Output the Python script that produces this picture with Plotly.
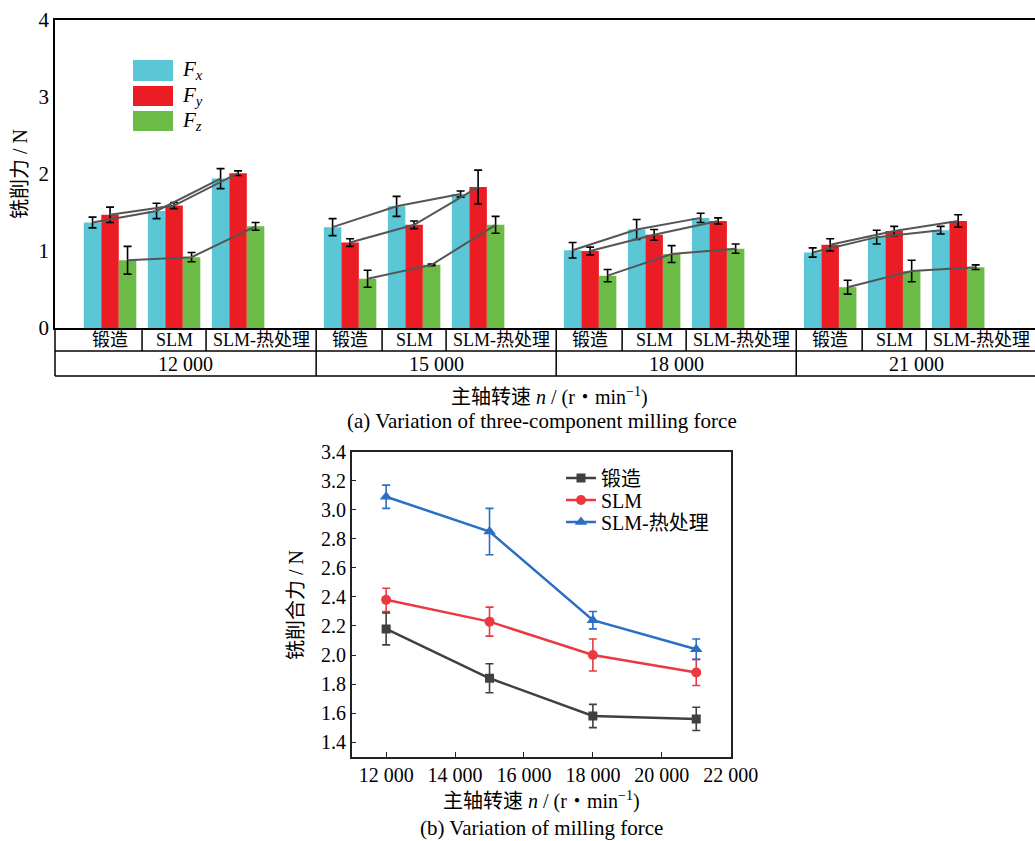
import plotly.graph_objects as go

# ---------------- data ----------------
speeds = ["12 000", "15 000", "18 000", "21 000"]
processes = ["锻造", "SLM", "SLM-热处理"]

# three-component milling force, ordered speed by speed, process by process
fx = [1.37, 1.52, 1.94, 1.31, 1.58, 1.74, 1.01, 1.28, 1.43, 0.98, 1.18, 1.27]
fx_err = [0.07, 0.10, 0.13, 0.11, 0.13, 0.04, 0.10, 0.13, 0.06, 0.06, 0.09, 0.05]
fy = [1.47, 1.59, 2.01, 1.11, 1.34, 1.83, 1.00, 1.21, 1.39, 1.08, 1.26, 1.39]
fy_err = [0.10, 0.04, 0.03, 0.05, 0.05, 0.22, 0.05, 0.07, 0.04, 0.08, 0.06, 0.08]
fz = [0.88, 0.92, 1.32, 0.64, 0.82, 1.34, 0.68, 0.96, 1.03, 0.53, 0.74, 0.79]
fz_err = [0.18, 0.06, 0.05, 0.11, 0.01, 0.11, 0.08, 0.11, 0.06, 0.09, 0.14, 0.03]

# resultant milling force
spindle = [12000, 15000, 18000, 21000]
forged = [2.18, 1.84, 1.58, 1.56]
forged_err = [0.11, 0.10, 0.08, 0.08]
slm = [2.38, 2.23, 2.00, 1.88]
slm_err = [0.08, 0.10, 0.11, 0.09]
slm_ht = [3.09, 2.85, 2.24, 2.04]
slm_ht_err = [0.08, 0.16, 0.06, 0.07]

# ---------------- style ----------------
W, H = 1035, 841
FONT = "Liberation Serif, 'Noto Sans CJK SC', serif"
C_FX, C_FY, C_FZ = "#5bc6d6", "#ec1c24", "#6cbb46"
C_LINK = "#555555"
C_FORGED, C_SLM, C_HT = "#404040", "#ea3a40", "#2a6fc2"


def px_x(p):
    return p / W


def px_y(p):
    return 1 - p / H


GROUP_STEP = 3.75        # slot spacing between speed groups
BARGAP = 0.18
BW = (1 - BARGAP) / 3    # width of one bar in slot units

pos = [g * GROUP_STEP + i for g in range(len(speeds)) for i in range(len(processes))]

fig = go.Figure()

for name, vals, errs, col in [("Fx", fx, fx_err, C_FX), ("Fy", fy, fy_err, C_FY), ("Fz", fz, fz_err, C_FZ)]:
    fig.add_trace(go.Bar(
        x=pos, y=vals, name=name, marker=dict(color=col, line=dict(width=0)),
        error_y=dict(type="data", array=errs, color="black", thickness=1.6, width=4),
        xaxis="x", yaxis="y", showlegend=False,
    ))

# linking lines between processes within each speed group
for vals, off in [(fx, -BW), (fy, 0.0), (fz, BW)]:
    xs, ys = [], []
    for g in range(len(speeds)):
        for i in range(len(processes)):
            k = g * len(processes) + i
            xs.append(pos[k] + off)
            ys.append(vals[k])
        xs.append(None)
        ys.append(None)
    fig.add_trace(go.Scatter(x=xs, y=ys, mode="lines", line=dict(color=C_LINK, width=2),
                             xaxis="x", yaxis="y", showlegend=False, hoverinfo="skip"))

# resultant force lines, each with its own legend box so rows sit tightly
LEG_TEXT = dict(size=20, family=FONT, color="black")
legend_rows = [478, 500, 522]
legend_boxes = {}
for k, (name, vals, errs, col, sym, size) in enumerate([
    ("锻造", forged, forged_err, C_FORGED, "square", 9),
    ("SLM", slm, slm_err, C_SLM, "circle", 10),
    ("SLM-热处理", slm_ht, slm_ht_err, C_HT, "triangle-up", 11),
]):
    leg_id = "legend" if k == 0 else f"legend{k + 1}"
    fig.add_trace(go.Scatter(
        x=spindle, y=vals, name=name, mode="lines+markers",
        line=dict(color=col, width=2.5), marker=dict(symbol=sym, size=size, color=col),
        error_y=dict(type="data", array=errs, color=col, thickness=1.6, width=4),
        xaxis="x2", yaxis="y2", legend=leg_id,
    ))
    legend_boxes[leg_id] = dict(x=px_x(561), y=px_y(legend_rows[k]), xanchor="left",
                                yanchor="middle", bgcolor="rgba(0,0,0,0)", font=LEG_TEXT,
                                itemwidth=30)

# ---------------- category table under the bar chart ----------------
X_LEFT = -0.86
X_RIGHT = 14.45
ROW1_BOT = 351
ROW2_BOT = 376
shapes = []
annotations = []
line_style = dict(color="black", width=1.5)

# horizontal rules
for yy in (ROW1_BOT, ROW2_BOT):
    shapes.append(dict(type="line", xref="paper", yref="paper", x0=px_x(55), x1=1,
                       y0=px_y(yy), y1=px_y(yy), line=line_style))
# left border of the table
shapes.append(dict(type="line", xref="paper", yref="paper", x0=px_x(55), x1=px_x(55),
                   y0=px_y(328), y1=px_y(ROW2_BOT), line=line_style))

group_edges = [X_LEFT]
for g in range(len(speeds)):
    last = pos[g * 3 + 2]
    right = last + 1.22
    # dividers between processes
    for i in range(2):
        xb = pos[g * 3 + i] + 0.5
        shapes.append(dict(type="line", xref="x", yref="paper", x0=xb, x1=xb,
                           y0=px_y(328), y1=px_y(ROW1_BOT), line=line_style))
    # divider after the group
    shapes.append(dict(type="line", xref="x", yref="paper", x0=right, x1=right,
                       y0=px_y(328), y1=px_y(ROW2_BOT), line=line_style))
    left = group_edges[-1]
    group_edges.append(right)
    for i, lab in enumerate(processes):
        xc = pos[g * 3 + i] if i < 2 else (last - 0.5 + right) / 2
        annotations.append(dict(x=xc, y=px_y(339.5), xref="x", yref="paper", text=lab,
                                xanchor="center", yanchor="middle", showarrow=False,
                                font=dict(size=18, family=FONT, color="black")))
    annotations.append(dict(x=(left + right) / 2, y=px_y(363.5), xref="x", yref="paper",
                            text=speeds[g], xanchor="center", yanchor="middle",
                            showarrow=False, font=dict(size=20, family=FONT, color="black")))

# legend for the bar chart
for (y0, y1, col, sub) in [(60, 81, C_FX, "x"), (86, 106, C_FY, "y"), (111, 131, C_FZ, "z")]:
    shapes.append(dict(type="rect", xref="paper", yref="paper", x0=px_x(133), x1=px_x(173),
                       y0=px_y(y1), y1=px_y(y0), fillcolor=col, line=dict(width=0)))
    annotations.append(dict(x=px_x(180), y=px_y((y0 + y1) / 2), xref="paper", yref="paper",
                            xanchor="left", yanchor="middle", text=f"<i>F<sub>{sub}</sub></i>",
                            showarrow=False, font=dict(size=21, family=FONT, color="black")))

# axis titles and captions
title_font = dict(size=20, family=FONT, color="black")
caption_font = dict(size=21, family=FONT, color="black")
speed_title = "主轴转速 <i>n</i> / (r・min<sup>−1</sup>)"
for x, y, text, angle, fnt in [
    (20, 174, "铣削力 / N", -90, title_font),
    (549, 397, speed_title, 0, title_font),
    (542, 421, "(a) Variation of three-component milling force", 0, caption_font),
    (296, 605, "铣削合力 / N", -90, title_font),
    (541, 800, speed_title, 0, title_font),
    (541, 828, "(b) Variation of milling force", 0, caption_font),
]:
    annotations.append(dict(x=px_x(x), y=px_y(y), xref="paper", yref="paper", text=text,
                            textangle=angle, xanchor="center", yanchor="middle",
                            showarrow=False, font=fnt))

tick_font = dict(size=20, family=FONT, color="black")
fig.update_layout(
    width=W, height=H, margin=dict(l=0, r=0, t=0, b=0, autoexpand=False),
    paper_bgcolor="white", plot_bgcolor="white",
    separators=". ",
    barmode="group", bargap=BARGAP, bargroupgap=0,
    font=dict(family=FONT, color="black"),
    xaxis=dict(domain=[px_x(55), 1], range=[X_LEFT, X_RIGHT], showticklabels=False,
               showgrid=False, zeroline=False, showline=True, linecolor="black",
               linewidth=1.5, mirror=True, ticks="", automargin=False),
    yaxis=dict(domain=[px_y(328), px_y(20)], range=[0, 4], dtick=1, showgrid=False,
               zeroline=False, showline=True, linecolor="black", linewidth=1.5,
               ticks="", tickfont=dict(size=21, family=FONT, color="black"), anchor="x",
               automargin=False),
    xaxis2=dict(domain=[px_x(351.7), px_x(730.7)], range=[11000, 22000], dtick=2000,
                tickformat=",d", showgrid=False, zeroline=False, showline=True,
                linecolor="#222222", linewidth=1.5, mirror=True, ticks="inside",
                ticklen=5, tickcolor="#222222", tickfont=tick_font, anchor="y2",
                automargin=False),
    yaxis2=dict(domain=[px_y(756.7), px_y(451.7)], range=[1.3, 3.4], dtick=0.2,
                tickformat=".1f", showgrid=False, zeroline=False, showline=True,
                linecolor="#222222", linewidth=1.5, mirror=True, ticks="inside",
                ticklen=5, tickcolor="#222222", tickfont=tick_font, anchor="x2",
                automargin=False),
    shapes=shapes, annotations=annotations,
    **legend_boxes,
)

fig.write_html(
    "out.html",
    post_script="document.documentElement.style.overflow='hidden';"
                "document.body.style.margin='0';document.body.style.overflow='hidden';",
)
